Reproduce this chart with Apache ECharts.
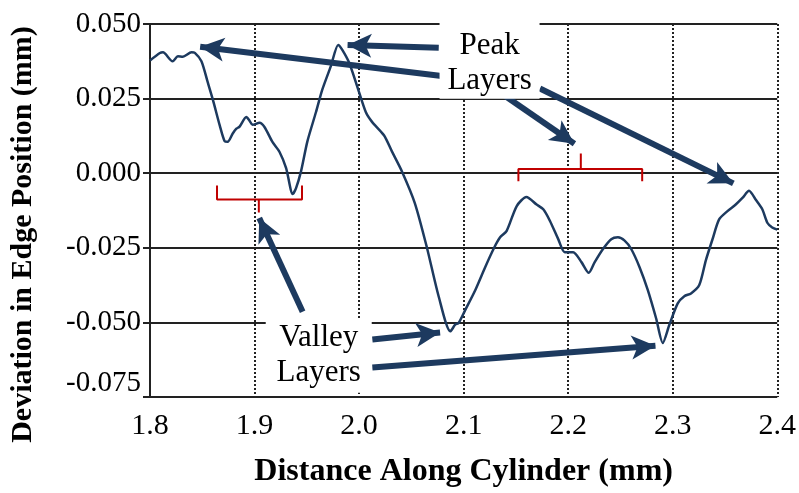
<!DOCTYPE html>
<html>
<head>
<meta charset="utf-8">
<script src="https://cdn.jsdelivr.net/npm/echarts@6/dist/echarts.min.js"></script>
<style>
  html, body { margin: 0; padding: 0; background: #fff; }
  #chart { width: 799px; height: 493px; }
</style>
</head>
<body>
<div id="chart"></div>
<script>
// Edge-position deviation profile along the cylinder (mm)
const distance = [
  1.8000, 1.8095, 1.8124, 1.8216, 1.8267, 1.8314, 1.8397, 1.8429, 1.8492, 1.8552,
  1.8600, 1.8667, 1.8714, 1.8743, 1.8790, 1.8826, 1.8857, 1.8921, 1.8952, 1.8981,
  1.9048, 1.9095, 1.9171, 1.9238, 1.9302, 1.9365, 1.9397, 1.9445, 1.9505, 1.9588,
  1.9648, 1.9730, 1.9800, 1.9838, 1.9905, 1.9981, 2.0064, 2.0124, 2.0238, 2.0314,
  2.0410, 2.0533, 2.0648, 2.0762, 2.0873, 2.0921, 2.0952, 2.1016, 2.1111, 2.1206,
  2.1286, 2.1349, 2.1412, 2.1508, 2.1600, 2.1698, 2.1762, 2.1826, 2.1905, 2.1968,
  2.2048, 2.2127, 2.2197, 2.2254, 2.2333, 2.2412, 2.2476, 2.2540, 2.2603, 2.2683,
  2.2762, 2.2841, 2.2905, 2.2968, 2.3048, 2.3111, 2.3175, 2.3254, 2.3317, 2.3381,
  2.3444, 2.3524, 2.3603, 2.3667, 2.3730, 2.3793, 2.3857, 2.3905, 2.3952, 2.4000
];
const deviation = [
  0.0378, 0.0403, 0.0405, 0.0375, 0.0392, 0.0390, 0.0405, 0.0403, 0.0375, 0.0305,
  0.0248, 0.0160, 0.0107, 0.0105, 0.0132, 0.0149, 0.0156, 0.0188, 0.0176, 0.0162,
  0.0169, 0.0155, 0.0105, 0.0072, 0.0017, -0.0070, -0.0050, 0.0007, 0.0106, 0.0205,
  0.0280, 0.0359, 0.0430, 0.0414, 0.0370, 0.0292, 0.0205, 0.0172, 0.0127, 0.0073,
  0.0006, -0.0100, -0.0248, -0.0414, -0.0530, -0.0507, -0.0502, -0.0458, -0.0392, -0.0315,
  -0.0254, -0.0215, -0.0193, -0.0110, -0.0080, -0.0105, -0.0121, -0.0160, -0.0221, -0.0265,
  -0.0265, -0.0298, -0.0334, -0.0298, -0.0254, -0.0221, -0.0215, -0.0226, -0.0254, -0.0315,
  -0.0392, -0.0486, -0.0569, -0.0508, -0.0436, -0.0412, -0.0403, -0.0375, -0.0292, -0.0221,
  -0.0155, -0.0127, -0.0105, -0.0083, -0.0059, -0.0088, -0.0121, -0.0166, -0.0182, -0.0189
];

// Axis ranges
const xTicks = [1.8, 1.9, 2.0, 2.1, 2.2, 2.3, 2.4];
const yTicks = [-0.075, -0.050, -0.025, 0.000, 0.025, 0.050];

// Red braces marking the peak / valley groups (x, y in data units)
const valleyBraceX = [1.8641, 1.8641, 1.9041, 1.9041, 1.9041, 1.9454, 1.9454];
const valleyBraceY = [-0.0041, -0.0088, -0.0088, -0.0132, -0.0088, -0.0088, -0.0041];
const peakBraceX = [2.1524, 2.1524, 2.2121, 2.2121, 2.2121, 2.2708, 2.2708];
const peakBraceY = [-0.0027, 0.0014, 0.0014, 0.0066, 0.0014, 0.0014, -0.0027];

// Callout arrows: [fromX, fromY, toX, toY]
const peakArrows = [
  [2.0762, 0.0420, 1.9890, 0.0430],
  [2.0790, 0.0326, 1.8480, 0.0424],
  [2.1397, 0.0259, 2.2060, 0.0099],
  [2.1730, 0.0284, 2.3580, -0.0034]
];
const valleyArrows = [
  [1.9460, -0.0464, 1.9045, -0.0150],
  [2.0127, -0.0557, 2.0775, -0.0534],
  [2.0127, -0.0651, 2.2835, -0.0578]
];

// Callout boxes: [centerX, centerY, label, boxWidth, boxHeight, textShift]
const callouts = [
  [2.1248, 0.0377, 'Peak\nLayers', 100, 76, 3],
  [1.9614, -0.0612, 'Valley\nLayers', 106, 74, 0]
];

const NAVY = '#1d3a5f';
const RED = '#c00000';
const SERIF = '"Liberation Serif", "Times New Roman", serif';

const pairs = (xs, ys) => xs.map((x, i) => [x, ys[i]]);

const arrowLines = peakArrows.concat(valleyArrows).map(a => [
  { coord: [a[0], a[1]] },
  { coord: [a[2], a[3]] }
]);

const chart = echarts.init(document.getElementById('chart'), null, { renderer: 'canvas' });

chart.setOption({
  animation: false,
  backgroundColor: '#ffffff',
  grid: { left: 150, right: 19, top: 24, bottom: 91, containLabel: false },
  xAxis: {
    type: 'value',
    min: xTicks[0],
    max: xTicks[xTicks.length - 1],
    interval: 0.1,
    name: 'Distance Along Cylinder (mm)',
    nameLocation: 'middle',
    nameGap: 59,
    nameTextStyle: { fontFamily: SERIF, fontSize: 32, fontWeight: 'bold', color: '#000' },
    axisLine: { show: true, lineStyle: { color: '#222', width: 2 } },
    axisTick: { show: false },
    axisLabel: {
      margin: 14,
      fontFamily: SERIF, fontSize: 30, color: '#000',
      formatter: v => v.toFixed(1)
    },
    splitLine: { show: true, lineStyle: { color: '#222', width: 2, type: [2, 2] } }
  },
  yAxis: {
    type: 'value',
    min: yTicks[0],
    max: yTicks[yTicks.length - 1],
    interval: 0.025,
    name: 'Deviation in Edge Position (mm)',
    nameLocation: 'middle',
    nameGap: 112,
    nameRotate: 90,
    nameTextStyle: {
      fontFamily: SERIF, fontSize: 30, fontWeight: 'bold', color: '#000',
      padding: [0, 48, 0, 0]
    },
    axisLine: { show: true, lineStyle: { color: '#222', width: 2 } },
    axisTick: { show: true, length: 7, lineStyle: { color: '#222', width: 2 } },
    axisLabel: {
      margin: 9,
      fontFamily: SERIF, fontSize: 29, color: '#000',
      formatter: v => {
        const s = v.toFixed(3);
        return Math.abs(v - yTicks[0]) < 1e-9 ? '{low|' + s + '}' : s;
      },
      rich: {
        low: { fontFamily: SERIF, fontSize: 29, color: '#000', padding: [0, 0, 28, 0] }
      }
    },
    splitLine: { show: true, lineStyle: { color: '#222', width: 2 } }
  },
  series: [
    {
      name: 'profile',
      type: 'line',
      data: pairs(distance, deviation),
      showSymbol: false,
      smooth: 0.25,
      lineStyle: { color: NAVY, width: 2.5 },
      z: 2
    },
    {
      name: 'valley brace',
      type: 'line',
      data: pairs(valleyBraceX, valleyBraceY),
      showSymbol: false,
      lineStyle: { color: RED, width: 2 },
      z: 3
    },
    {
      name: 'peak brace',
      type: 'line',
      data: pairs(peakBraceX, peakBraceY),
      showSymbol: false,
      lineStyle: { color: RED, width: 2 },
      z: 3
    },
    {
      name: 'callouts',
      type: 'line',
      data: [],
      z: 5,
      markPoint: {
        silent: true,
        symbol: 'rect',
        itemStyle: { color: '#ffffff' },
        label: {
          show: true,
          position: 'inside',
          fontFamily: SERIF, fontSize: 31, color: '#000',
          lineHeight: 35,
          formatter: p => p.name
        },
        data: callouts.map(c => ({
          name: c[2],
          coord: [c[0], c[1]],
          symbolSize: [c[3], c[4]],
          label: { offset: [0, c[5]] }
        }))
      },
      markLine: {
        silent: true,
        symbol: ['none', 'arrow'],
        symbolSize: [18, 24],
        label: { show: false },
        lineStyle: { color: NAVY, width: 6, type: 'solid' },
        data: arrowLines
      }
    }
  ]
});
</script>
</body>
</html>
